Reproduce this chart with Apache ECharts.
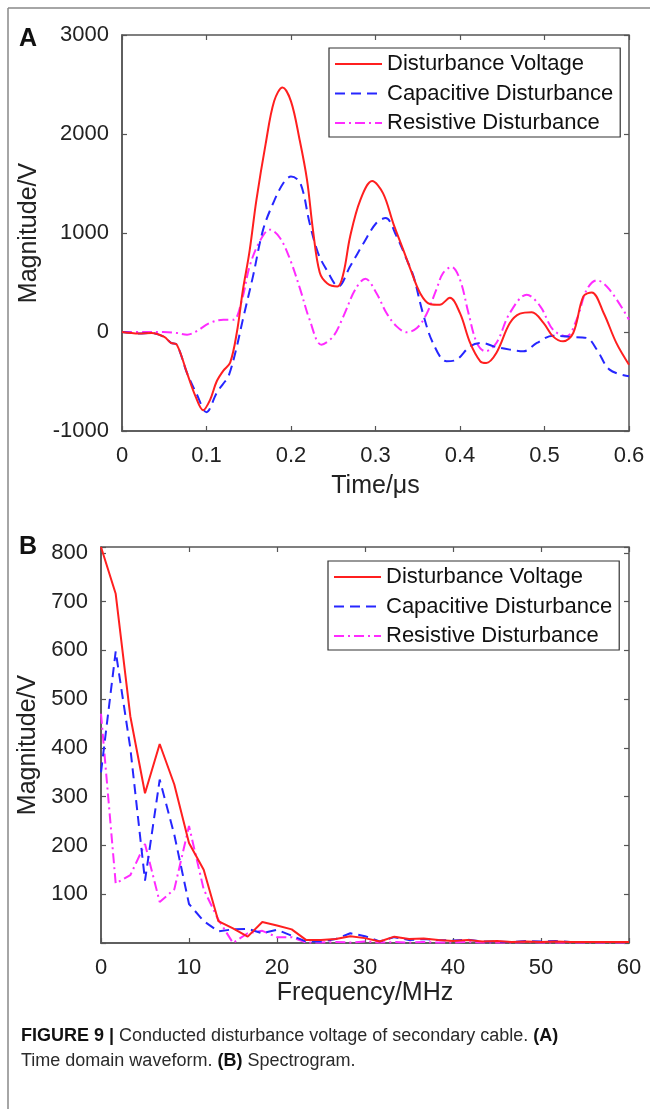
<!DOCTYPE html>
<html>
<head>
<meta charset="utf-8">
<script src="https://cdn.jsdelivr.net/npm/echarts@6/dist/echarts.min.js"></script>
<style>
  html, body { margin: 0; padding: 0; background: #fff; }
  #chart { width: 650px; height: 1109px; }
</style>
</head>
<body>
<div id="chart"></div>
<script>
  // ---- panel A : time domain (value pairs) ----
  var dvTime = [0, 0.02, 0.035, 0.05, 0.058, 0.065, 0.077, 0.087, 0.096, 0.104, 0.112, 0.12, 0.128, 0.136, 0.143, 0.151, 0.159, 0.17, 0.18, 0.19, 0.2, 0.21, 0.219, 0.226, 0.234, 0.243, 0.255, 0.262, 0.27, 0.282, 0.296, 0.309, 0.321, 0.333, 0.341, 0.353, 0.365, 0.376, 0.388, 0.4, 0.412, 0.424, 0.431, 0.443, 0.459, 0.471, 0.485, 0.499, 0.51, 0.522, 0.534, 0.546, 0.556, 0.57, 0.585, 0.6];
  var dvValue = [0, -15, -10, -50, -110, -130, -416, -650, -790, -690, -500, -390, -310, 0, 420, 820, 1330, 1900, 2330, 2470, 2330, 1950, 1535, 1030, 600, 490, 460, 590, 965, 1333, 1525, 1400, 1098, 828, 643, 390, 280, 275, 345, 190, -110, -296, -313, -212, 90, 185, 200, 90, -44, -94, -10, 360, 400, 192, -110, -330];

  var capTime = [0, 0.02, 0.035, 0.05, 0.058, 0.065, 0.077, 0.088, 0.1, 0.112, 0.12, 0.126, 0.135, 0.143, 0.155, 0.167, 0.179, 0.191, 0.2, 0.211, 0.222, 0.232, 0.242, 0.256, 0.27, 0.286, 0.301, 0.312, 0.325, 0.337, 0.345, 0.356, 0.368, 0.384, 0.396, 0.412, 0.426, 0.44, 0.459, 0.475, 0.491, 0.51, 0.53, 0.55, 0.562, 0.577, 0.6];
  var capValue = [0, -15, -10, -50, -110, -130, -416, -620, -810, -616, -520, -448, -178, 125, 562, 1034, 1303, 1505, 1570, 1505, 1101, 798, 630, 461, 663, 899, 1101, 1151, 966, 731, 562, 192, -111, -296, -280, -145, -111, -145, -178, -195, -111, -37, -50, -60, -178, -380, -448];

  var resTime = [0, 0.025, 0.049, 0.065, 0.077, 0.088, 0.104, 0.12, 0.132, 0.142, 0.151, 0.163, 0.175, 0.187, 0.199, 0.211, 0.222, 0.236, 0.25, 0.262, 0.276, 0.288, 0.301, 0.313, 0.325, 0.337, 0.349, 0.36, 0.372, 0.38, 0.39, 0.4, 0.41, 0.42, 0.43, 0.443, 0.459, 0.479, 0.495, 0.51, 0.526, 0.538, 0.55, 0.562, 0.577, 0.6];
  var resValue = [0, 0, 0, -10, -27, 7, 91, 125, 125, 327, 663, 916, 1034, 950, 731, 428, 125, -128, -44, 158, 428, 539, 394, 192, 57, -3, 40, 175, 428, 596, 657, 529, 192, -111, -195, -111, 192, 377, 259, 24, -44, 125, 428, 522, 428, 125];

  // ---- panel B : spectrum, bins of 1/0.6us ----
  var freqMHz = [0, 1.67, 3.33, 5, 6.67, 8.33, 10, 11.67, 13.33, 15, 16.67, 18.33, 20, 21.67, 23.33, 25, 26.67, 28.33, 30, 31.67, 33.33, 35, 36.67, 38.33, 40, 41.67, 43.33, 45, 46.67, 48.33, 50, 51.67, 53.33, 55, 56.67, 58.33, 60];
  var dvSpec = [812, 716, 465, 307, 408, 325, 205, 150, 45, 30, 13, 43, 36, 28, 6, 6, 8, 14, 10, 3, 13, 8, 9, 6, 4, 6, 3, 4, 2, 3, 2, 3, 2, 2, 2, 2, 2];
  var capSpec = [350, 598, 400, 128, 335, 222, 80, 45, 24, 28, 29, 20, 27, 15, 3, 3, 8, 20, 14, 3, 12, 6, 8, 6, 5, 7, 3, 3, 2, 4, 3, 4, 2, 2, 2, 2, 2];
  var resSpec = [470, 122, 139, 203, 84, 110, 240, 110, 48, 0, 20, 25, 12, 12, 1, 1, 2, 1, 3, 1, 2, 1, 2, 1, 1, 2, 1, 1, 1, 2, 1, 1, 1, 1, 1, 1, 1];

  var names = ['Disturbance Voltage', 'Capacitive Disturbance', 'Resistive Disturbance'];
  var colors = ['#ff1f1f', '#2626ff', '#ff2bff'];
  var dashes = ['solid', [10, 6], [10, 4, 2, 4]];

  function pairs(xs, ys) {
    return xs.map(function (x, i) { return [x, ys[i]]; });
  }

  var font = 'Liberation Sans, Arial, sans-serif';
  var axisColor = '#555';

  function xAx(gridIndex, min, max, interval, pos, name, gap) {
    var main = pos === 'bottom';
    return {
      type: 'value', gridIndex: gridIndex, position: pos,
      min: min, max: max, interval: interval,
      name: main ? name : '', nameLocation: 'middle', nameGap: gap,
      nameTextStyle: { fontFamily: font, fontSize: 25, color: '#222' },
      axisLine: { show: main, onZero: false, lineStyle: { color: axisColor, width: 1.5 } },
      axisTick: { show: true, inside: true, length: 5, lineStyle: { color: axisColor, width: 1.2 } },
      axisLabel: {
        show: main, margin: 14, fontFamily: font, fontSize: 22, color: '#222',
        formatter: function (v) { return String(+v.toFixed(2)); }
      },
      splitLine: { show: false }
    };
  }

  function yAx(gridIndex, min, max, interval, pos, name, gap, hideZero) {
    var main = pos === 'left';
    return {
      type: 'value', gridIndex: gridIndex, position: pos,
      min: min, max: max, interval: interval,
      name: main ? name : '', nameLocation: 'middle', nameGap: gap,
      nameTextStyle: { fontFamily: font, fontSize: 25, color: '#222' },
      axisLine: { show: main, onZero: false, lineStyle: { color: axisColor, width: 1.5 } },
      axisTick: { show: true, inside: true, length: 5, lineStyle: { color: axisColor, width: 1.2 } },
      axisLabel: {
        show: main, margin: 13, fontFamily: font, fontSize: 22, color: '#222',
        formatter: function (v) {
          if (v % interval !== 0) return '';
          if (hideZero && v === 0) return '';
          return String(v);
        }
      },
      splitLine: { show: false }
    };
  }

  var timeSets = [pairs(dvTime, dvValue), pairs(capTime, capValue), pairs(resTime, resValue)];
  var specSets = [pairs(freqMHz, dvSpec), pairs(freqMHz, capSpec), pairs(freqMHz, resSpec)];

  var series = [];
  names.forEach(function (n, i) {
    series.push({
      name: n, type: 'line', xAxisIndex: 0, yAxisIndex: 0,
      data: timeSets[i], smooth: 0.35, symbol: 'none',
      lineStyle: { color: colors[i], width: 2, type: dashes[i] },
      itemStyle: { color: colors[i] }, z: 5 - i
    });
  });
  names.forEach(function (n, i) {
    series.push({
      name: n, type: 'line', xAxisIndex: 2, yAxisIndex: 2,
      data: specSets[i], symbol: 'none',
      lineStyle: { color: colors[i], width: 2, type: dashes[i] },
      itemStyle: { color: colors[i] }, z: 5 - i
    });
  });

  function legendAt(left, top) {
    return {
      data: names, orient: 'vertical', left: left, top: top,
      icon: 'inherit',
      itemWidth: 47, itemHeight: 22, itemGap: 7.5,
      padding: [5, 7, 3, 5],
      backgroundColor: '#fff', borderColor: '#333', borderWidth: 1.2, borderRadius: 0,
      itemStyle: { opacity: 0 },
      textStyle: { fontFamily: font, fontSize: 22, color: '#111' },
      selectedMode: false
    };
  }

  var chart = echarts.init(document.getElementById('chart'));
  chart.setOption({
    backgroundColor: '#fff',
    animation: false,
    grid: [
      { left: 122, top: 35, width: 507, height: 396, show: true, borderColor: axisColor, borderWidth: 1.5, backgroundColor: '#fff' },
      { left: 101, top: 547, width: 528, height: 396, show: true, borderColor: axisColor, borderWidth: 1.5, backgroundColor: '#fff' }
    ],
    xAxis: [
      xAx(0, 0, 0.6, 0.1, 'bottom', 'Time/μs', 43),
      xAx(0, 0, 0.6, 0.1, 'top', '', 0),
      xAx(1, 0, 60, 10, 'bottom', 'Frequency/MHz', 38),
      xAx(1, 0, 60, 10, 'top', '', 0)
    ],
    yAxis: [
      yAx(0, -1000, 3000, 1000, 'left', 'Magnitude/V', 80, false),
      yAx(0, -1000, 3000, 1000, 'right', '', 0, false),
      yAx(1, 0, 812, 100, 'left', 'Magnitude/V', 59, true),
      yAx(1, 0, 812, 100, 'right', '', 0, true)
    ],
    legend: [legendAt(329, 48), legendAt(328, 561)],
    series: series,
    graphic: [
      { type: 'line', shape: { x1: 8, y1: 8, x2: 650, y2: 8 }, style: { stroke: '#888', lineWidth: 1.5 } },
      { type: 'line', shape: { x1: 8, y1: 8, x2: 8, y2: 1109 }, style: { stroke: '#888', lineWidth: 1.5 } },
      { type: 'text', left: 19, top: 27, style: { text: 'A', font: 'bold 25px Liberation Sans, Arial, sans-serif', fill: '#111' } },
      { type: 'text', left: 19, top: 535, style: { text: 'B', font: 'bold 25px Liberation Sans, Arial, sans-serif', fill: '#111' } },
      {
        type: 'text', left: 21, top: 1024,
        style: {
          text: '{b|FIGURE 9 |} Conducted disturbance voltage of secondary cable. {b|(A)}\nTime domain waveform. {b|(B)} Spectrogram.',
          fontFamily: font, fontSize: 18, lineHeight: 25, fill: '#2a2a2a',
          rich: { b: { fontFamily: font, fontSize: 18, fontWeight: 'bold', fill: '#111', lineHeight: 25 } }
        }
      }
    ]
  });
</script>
</body>
</html>
